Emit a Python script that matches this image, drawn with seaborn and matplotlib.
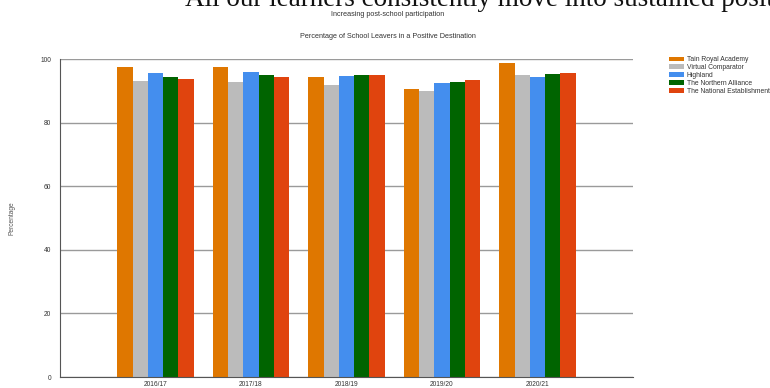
import matplotlib
matplotlib.use("Agg")
import matplotlib.pyplot as plt
import seaborn as sns
import pandas as pd
from matplotlib.patches import Patch

# School years and comparison groups
years = ["2016/17", "2017/18", "2018/19", "2019/20", "2020/21"]
groups = ["Tain Royal Academy", "Virtual Comparator", "Highland",
          "The Northern Alliance", "The National Establishment"]

# Percentage of leavers in a positive destination, per group
tain = [97.6, 97.6, 94.3, 90.6, 98.8]
virtual = [93.1, 92.9, 91.8, 90.0, 94.9]
highland = [95.5, 95.9, 94.7, 92.6, 94.3]
northern = [94.3, 94.9, 94.9, 92.9, 95.3]
national = [93.8, 94.3, 95.1, 93.4, 95.5]

colours = ["#DF7700", "#BBBBBB", "#448EEE", "#006400", "#E0440E"]

series = [tain, virtual, highland, northern, national]
df = pd.DataFrame({
    "Year": [y for _ in groups for y in years],
    "Group": [g for g in groups for _ in years],
    "Percentage": [v for s in series for v in s],
})

sns.set_style("white")
plt.rcParams["font.family"] = ["Liberation Sans", "DejaVu Sans"]

W, H = 770, 388
fig = plt.figure(figsize=(W / 100, H / 100), dpi=100)
ax = fig.add_axes([60 / W, (H - 377) / H, (633 - 60) / W, (377 - 59) / H])

sns.barplot(data=df, x="Year", y="Percentage", hue="Group", order=years,
            hue_order=groups, palette=colours, width=0.8, gap=0,
            saturation=1, edgecolor="none", linewidth=0, legend=False, ax=ax)

ax.set_xlim(-1, 5)
ax.set_ylim(0, 100)
ax.set_yticks([0, 20, 40, 60, 80, 100])
ax.yaxis.grid(True, color="#9a9a9a", linewidth=1)
ax.set_axisbelow(True)
ax.tick_params(axis="y", length=5, width=0.8, color="#555555",
               labelsize=4.8, labelcolor="#333333", pad=1.5)

# Category boundaries carry the tick marks; names sit centred below
ax.set_xticks([-0.5, 0.5, 1.5, 2.5, 3.5, 4.5])
ax.set_xticklabels([])
ax.tick_params(axis="x", which="major", length=3, width=0.8, color="#555555")
ax.set_xticks(range(len(years)), minor=True)
ax.set_xticklabels(years, minor=True)
ax.tick_params(axis="x", which="minor", length=0, labelsize=4.8,
               labelcolor="#333333", pad=3)

for side in ["top", "right"]:
    ax.spines[side].set_visible(False)
for side in ["left", "bottom"]:
    ax.spines[side].set_color("#555555")
    ax.spines[side].set_linewidth(0.8)

ax.set_xlabel("")
ax.set_ylabel("Percentage", fontsize=4.8, color="#555555", labelpad=0)
ax.yaxis.set_label_coords(-45 / (633 - 60), 0.5)

handles = [Patch(facecolor=c, edgecolor="none") for c in colours]
fig.legend(handles, groups, loc="upper left",
           bbox_to_anchor=(666 / W, 1 - 53 / H), frameon=False,
           fontsize=4.9, handlelength=2.1, handleheight=0.7,
           handletextpad=0.45, labelspacing=0.12, borderpad=0,
           labelcolor="#333333")

fig.text(388 / W, 1 - 15 / H, "Increasing post-school participation",
         ha="center", va="center", fontsize=5.2, color="#333333")
fig.text(388 / W, 1 - 36 / H, "Percentage of School Leavers in a Positive Destination",
         ha="center", va="center", fontsize=5.2, color="#333333")
fig.text(185 / W, 1 - 6 / H,
         "All our learners consistently move into sustained positive destinations",
         ha="left", va="baseline", fontsize=19.5, color="#111111",
         family=["Liberation Serif", "DejaVu Serif"])

fig.savefig("out.png", dpi=100)
